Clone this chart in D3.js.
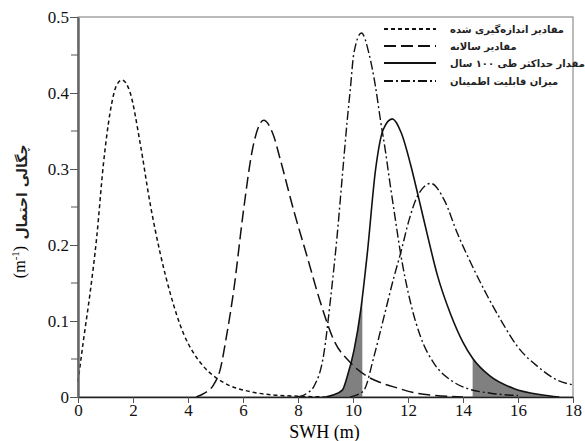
<!DOCTYPE html>
<html>
<head>
<meta charset="utf-8">
<script src="https://cdn.jsdelivr.net/npm/d3@7"></script>
<style>
  body { margin: 0; background: #fff; }
  .fa { font-family: "DejaVu Sans", sans-serif; font-weight: bold; fill: #222; }
</style>
</head>
<body>
<div id="chart"></div>
<script>
// ticks
const xTicks = [0, 2, 4, 6, 8, 10, 12, 14, 16, 18];
const yTicks = [0, 0.1, 0.2, 0.3, 0.4, 0.5];
const yMinor = [0.05, 0.15, 0.25, 0.35, 0.45];

// measured values (short dash)
const measuredX = [0, 0.2, 0.44, 0.68, 0.92, 1.17, 1.4, 1.6, 1.9, 2.26, 2.62, 2.99, 3.35, 3.83, 4.2, 4.57, 5.3, 6.27, 7, 8, 9];
const measuredY = [0.02, 0.075, 0.137, 0.21, 0.305, 0.375, 0.41, 0.417, 0.4, 0.334, 0.255, 0.189, 0.137, 0.084, 0.058, 0.04, 0.019, 0.007, 0.003, 0.001, 0];

// annual values (long dash)
const annualX = [4.3, 4.6, 4.93, 5.17, 5.4, 5.65, 6.02, 6.34, 6.75, 7.1, 7.36, 7.84, 8.33, 8.82, 9.3, 9.91, 10.52, 11.0, 11.6, 12.3, 13, 14];
const annualY = [0, 0.005, 0.016, 0.036, 0.08, 0.137, 0.246, 0.325, 0.364, 0.345, 0.312, 0.246, 0.185, 0.124, 0.075, 0.045, 0.027, 0.019, 0.012, 0.005, 0.002, 0];

// max over 100 years (solid)
const maxX = [9.0, 9.3, 9.61, 9.79, 10.04, 10.28, 10.52, 10.82, 11.1, 11.43, 11.75, 12.1, 12.4, 12.7, 13.07, 13.56, 14.0, 14.35, 15.0, 15.86, 16.84, 17.5];
const maxY = [0, 0.003, 0.009, 0.027, 0.062, 0.114, 0.189, 0.299, 0.352, 0.366, 0.348, 0.305, 0.26, 0.214, 0.16, 0.108, 0.072, 0.051, 0.027, 0.011, 0.003, 0];

// confidence bounds (dash-dot)
const lowerX = [8.0, 8.33, 8.58, 8.94, 9.18, 9.43, 9.61, 9.79, 9.91, 10.03, 10.31, 10.58, 10.82, 11.0, 11.19, 11.31, 11.49, 11.73, 12.1, 12.46, 12.95, 13.56, 14.17, 15, 16];
const lowerY = [0, 0.005, 0.014, 0.057, 0.128, 0.215, 0.29, 0.364, 0.408, 0.452, 0.479, 0.452, 0.408, 0.364, 0.321, 0.29, 0.246, 0.189, 0.123, 0.079, 0.044, 0.022, 0.011, 0.005, 0.002];
const upperX = [9.9, 10.1, 10.4, 10.76, 11.13, 11.49, 11.73, 12.04, 12.34, 12.83, 13.32, 13.8, 14.29, 14.77, 15.38, 15.99, 16.72, 17.44, 18];
const upperY = [0, 0.002, 0.009, 0.053, 0.106, 0.158, 0.189, 0.233, 0.264, 0.281, 0.259, 0.215, 0.176, 0.141, 0.101, 0.066, 0.04, 0.022, 0.016];

// shaded tails of the solid curve
const shadeRanges = [[9.0, 10.34], [14.35, 18]];

const legendLabels = [
  "مقادیر اندازه‌گیری شده",
  "مقادیر سالانه",
  "مقدار حداکثر طی ۱۰۰ سال",
  "میزان قابلیت اطمینان",
];

const W = 585, H = 441;
const margin = { top: 17, right: 12, bottom: 44, left: 78 };
const serif = "Liberation Serif, Times New Roman, serif";

const svg = d3.select("#chart").append("svg").attr("width", W).attr("height", H);

const x = d3.scaleLinear().domain([0, 18]).range([margin.left, W - margin.right]);
const y = d3.scaleLinear().domain([0, 0.5]).range([H - margin.bottom, margin.top]);

const toPts = (xs, ys) => xs.map((v, i) => [v, ys[i]]);
const line = d3.line().x((d) => x(d[0])).y((d) => y(d[1])).curve(d3.curveMonotoneX);
const area = d3.area().x((d) => x(d[0])).y0(y(0)).y1((d) => y(d[1])).curve(d3.curveMonotoneX);

// shaded regions, clipped to the tail ranges
shadeRanges.forEach((r, i) => {
  svg.append("clipPath").attr("id", "clip" + i)
    .append("rect")
    .attr("x", x(r[0])).attr("y", y(0.5))
    .attr("width", x(r[1]) - x(r[0])).attr("height", y(0) - y(0.5));
  svg.append("path")
    .datum(toPts(maxX, maxY))
    .attr("clip-path", `url(#clip${i})`)
    .attr("fill", "#808080")
    .attr("d", area);
});

// frame
svg.append("rect")
  .attr("x", x(0)).attr("y", y(0.5))
  .attr("width", x(18) - x(0)).attr("height", y(0) - y(0.5))
  .attr("fill", "none").attr("stroke", "#777").attr("stroke-width", 1);

const series = [
  { pts: toPts(measuredX, measuredY), dash: "4,3", w: 1.5 },
  { pts: toPts(annualX, annualY), dash: "12,5", w: 1.5 },
  { pts: toPts(maxX, maxY), dash: null, w: 1.6 },
  { pts: toPts(lowerX, lowerY), dash: "9,3,2,3", w: 1.4 },
  { pts: toPts(upperX, upperY), dash: "9,3,2,3", w: 1.4 },
];

series.forEach((s) => {
  svg.append("path")
    .datum(s.pts)
    .attr("fill", "none")
    .attr("stroke", "#111")
    .attr("stroke-width", s.w)
    .attr("stroke-dasharray", s.dash)
    .attr("d", line);
});

// axes
const xAxis = svg.append("g")
  .attr("transform", `translate(0,${y(0)})`)
  .call(d3.axisBottom(x).tickValues(xTicks).tickSize(6).tickSizeOuter(0))
  .attr("font-family", serif)
  .attr("font-size", 17);
xAxis.select(".domain").attr("stroke", "#222").attr("stroke-width", 1.5);
xAxis.selectAll(".tick line").attr("stroke", "#555");
xAxis.selectAll(".tick text").attr("fill", "#111").attr("y", 7);

const yAxis = svg.append("g")
  .attr("transform", `translate(${x(0)},0)`)
  .call(d3.axisLeft(y).tickValues(yTicks).tickSize(8).tickSizeOuter(0)
    .tickFormat((d) => (d === 0 ? "0" : d.toFixed(1))))
  .attr("font-family", serif)
  .attr("font-size", 17);
yAxis.select(".domain").attr("stroke", "#666").attr("stroke-width", 2.5);
yAxis.selectAll(".tick line").attr("stroke", "#555");
yAxis.selectAll(".tick text").attr("fill", "#111").attr("x", -9);

svg.append("g").selectAll("line")
  .data(yMinor).enter().append("line")
  .attr("x1", x(0) - 7).attr("x2", x(0))
  .attr("y1", (d) => y(d)).attr("y2", (d) => y(d))
  .attr("stroke", "#555");

// axis titles
svg.append("text")
  .attr("x", (x(0) + x(18)) / 2 - 1).attr("y", H - 3)
  .attr("text-anchor", "middle")
  .attr("font-family", serif).attr("font-size", 18)
  .text("SWH (m)");

const yt = svg.append("text")
  .attr("transform", "translate(25,262) rotate(-90)")
  .attr("text-anchor", "middle")
  .attr("font-family", serif).attr("font-size", 16);
yt.append("tspan").text("(m");
yt.append("tspan").attr("baseline-shift", "super").attr("font-size", 11).text("-1");
yt.append("tspan").text(")");

svg.append("text")
  .attr("class", "fa")
  .attr("transform", "translate(27,192) rotate(-90)")
  .attr("text-anchor", "middle")
  .style("font-size", "14px")
  .text("چگالی احتمال");

// legend
const legendDash = ["4,3", "12,5", null, "9,3,2,3"];
const legend = svg.append("g")
  .selectAll("g")
  .data(legendLabels)
  .enter()
  .append("g")
  .attr("transform", (d, i) => `translate(384,${[29, 46, 63, 81][i]})`);

legend.append("line")
  .attr("x1", 0).attr("x2", 52)
  .attr("stroke", "#111").attr("stroke-width", 2)
  .attr("stroke-dasharray", (d, i) => legendDash[i]);

legend.append("text")
  .attr("class", "fa")
  .attr("x", 66).attr("y", 4)
  .style("font-size", "10px")
  .text((d) => d);
</script>
</body>
</html>
